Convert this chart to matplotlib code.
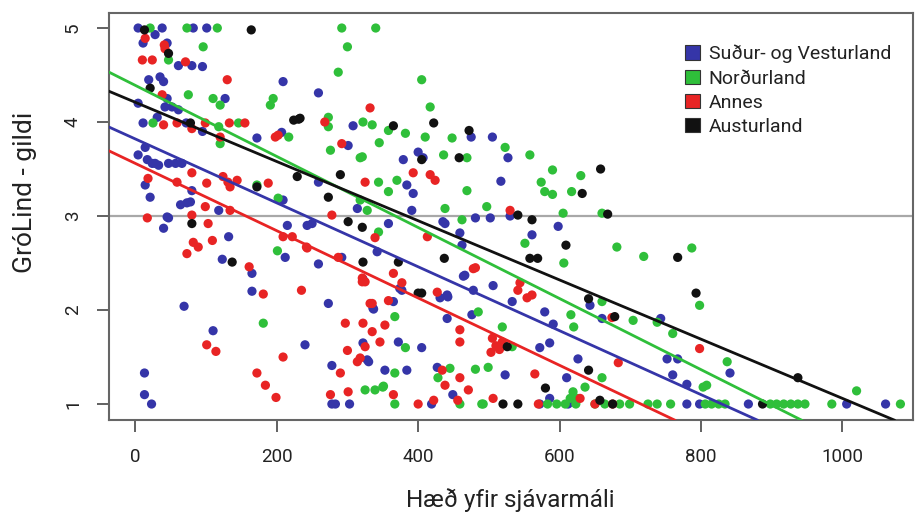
import matplotlib
matplotlib.use("Agg")
from matplotlib import pyplot as plt
from matplotlib.patches import Patch

plt.rcParams['font.family'] = ['Roboto', 'DejaVu Sans']

# Suður- og Vesturland
sv_x = [4, 38, 82, 101, 11, 28, 45, 61, 80, 95, 19, 35, 40, 209, 45, 127, 259,
        4, 42, 52, 61, 31, 11, 72, 95, 172, 207, 308, 301, 379, 400, 407,
        384, 393, 259, 391, 314, 435, 358, 215, 243, 250,
        4, 17, 24, 28, 33, 14, 47, 57, 66, 14, 21, 80, 64, 73, 78, 118, 45, 40, 132, 209,
        47, 123, 165, 165, 69, 110, 13, 13, 23, 240, 212,
        273, 336, 365, 372, 405, 322, 328, 330, 278, 353, 384,
        278, 283, 303, 419, 322, 374, 431, 441, 441, 259,
        438, 459, 462, 481, 502, 292, 342, 464, 506, 377, 442, 478, 337, 476, 427, 523, 449,
        475, 505, 527, 517, 530,
        598, 561, 533, 579, 591, 643, 660, 743, 752, 767, 760, 780, 626, 586, 572, 610, 586, 466,
        841, 572, 612, 780, 798, 867, 1006, 1061]
sv_y = [5, 5, 5, 5, 4.84, 4.93, 4.84, 4.6, 4.6, 4.59, 4.45, 4.48, 4.43, 4.43, 4.25, 4.25, 4.31,
        4.2, 4.16, 4.16, 4.13, 4.05, 3.99, 3.99, 3.9, 3.83, 3.89, 3.96, 3.75, 3.6, 3.68, 3.62,
        3.33, 3.24, 3.36, 3.06, 3.08, 2.94, 2.92, 2.9, 2.9, 2.92,
        3.65, 3.6, 3.56, 3.56, 3.54, 3.73, 3.56, 3.56, 3.56, 3.33, 3.2, 3.27, 3.12, 3.14, 3.15, 3.06, 2.99, 2.87, 2.78, 3.17,
        2.98, 2.54, 2.39, 2.2, 2.04, 1.78, 1.33, 1.1, 1.0, 1.63, 2.56,
        2.07, 2.02, 2.09, 1.66, 1.6, 1.65, 1.47, 1.45, 1.41, 1.36, 1.36,
        1.0, 1.0, 1.0, 1.0, 2.33, 2.23, 2.13, 2.16, 1.91, 2.49,
        2.92, 2.82, 2.69, 2.98, 2.98, 2.56, 2.62, 2.36, 2.26, 2.21, 2.14, 2.21, 2.01, 1.95, 1.39, 1.31, 1.1,
        3.84, 3.84, 3.62, 3.37, 3.0,
        2.89, 2.8, 2.09, 1.98, 1.85, 2.05, 1.91, 1.91, 1.48, 1.48, 1.31, 1.21, 1.48, 1.65, 1.6, 1.28, 1.06, 2.37,
        1.33, 1.0, 1.0, 1.0, 1.0, 1.0, 1.0, 1.0]

# Norðurland
no_x = [21, 73, 116, 292, 340, 47, 96, 300, 287, 405,
        75, 110, 120, 195, 191, 25, 118, 146, 217, 120,
        273, 273, 322, 335, 358, 382, 417, 410, 448,
        276, 318, 436, 344, 370, 358, 318, 328, 202, 438, 172,
        201, 181, 382, 367, 339, 351, 367,
        344, 462, 367, 485, 519, 445, 428, 481, 499, 459, 350, 325, 492,
        345, 321, 469, 523, 497, 469,
        558, 590, 630, 574, 579, 590, 617, 605, 660,
        551, 606, 681, 719, 787, 798, 616, 620, 660, 704, 738, 760, 803, 533, 660, 636, 619, 625, 615,
        837, 808, 1020,
        490, 583, 596, 608, 623, 650, 664, 685, 699, 725, 738, 757, 806, 815, 825, 834,
        898, 907, 917, 927, 937, 947, 985, 1082]
no_y = [5, 5, 5, 5, 5, 4.66, 4.8, 4.8, 4.53, 4.45,
        4.29, 4.25, 4.18, 4.25, 4.18, 3.99, 3.95, 3.99, 3.84, 3.77,
        4.05, 3.95, 4.0, 3.97, 3.91, 3.88, 4.16, 3.84, 3.83,
        3.7, 3.62, 3.65, 3.36, 3.38, 3.26, 3.17, 3.06, 3.19, 3.08, 3.33,
        2.63, 1.86, 1.6, 1.33, 1.15, 1.19, 1.0,
        2.83, 2.96, 1.93, 1.98, 1.82, 1.38, 1.28, 1.37, 1.39, 1.0, 1.18, 1.15, 1.0,
        3.78, 3.63, 3.62, 3.73, 3.1, 3.27,
        3.65, 3.49, 3.43, 3.36, 3.26, 3.23, 3.26, 3.03, 3.03,
        2.71, 2.5, 2.67, 2.57, 2.66, 2.05, 1.95, 1.82, 2.09, 1.89, 1.87, 1.75, 1.18, 1.61, 1.28, 1.18, 1.13, 1.06, 1.06,
        1.45, 1.2, 1.14,
        1.0, 1.0, 1.0, 1.0, 1.0, 1.0, 1.0, 1.0, 1.0, 1.0, 1.0, 1.0, 1.0, 1.0, 1.0, 1.0,
        1.0, 1.0, 1.0, 1.0, 1.0, 1.0, 1.0, 1.0]

# Annes
an_x = [14, 41, 42, 10, 24, 71, 130, 38, 40, 59, 80, 99, 133, 155, 202, 198, 120, 268, 332, 292,
        393, 417, 424, 325, 278, 339, 413, 209, 222,
        18, 80, 101, 59, 124, 131, 134, 144, 99, 134, 80, 17, 103, 82, 89, 73, 109, 188,
        161, 181, 101, 114, 172, 184, 199, 209, 235, 243,
        297, 322, 335, 346, 353, 332, 358, 300, 314, 318, 325, 290, 365, 276, 301, 400, 422,
        325, 365, 377, 427, 242, 287, 481, 321, 321, 335,
        459, 459, 505, 510, 515, 503, 519, 434, 438, 459, 471, 456, 506, 530,
        541, 554, 561, 478, 544, 674, 798, 683, 565, 629, 570, 650, 675]
an_y = [4.89, 4.82, 4.78, 4.66, 4.66, 4.64, 4.45, 4.29, 3.97, 3.99, 3.93, 3.99, 3.99, 3.99, 3.86, 3.84, 3.84, 4.0, 4.15, 3.77,
        3.46, 3.44, 3.38, 3.36, 3.01, 2.77, 2.78, 2.78, 2.78,
        3.4, 3.46, 3.35, 3.36, 3.42, 3.36, 3.31, 3.38, 3.1, 3.06, 3.01, 2.98, 2.92, 2.72, 2.67, 2.6, 2.74, 3.35,
        2.46, 2.17, 1.63, 1.56, 1.33, 1.2, 1.07, 1.5, 2.21, 2.66,
        1.86, 1.86, 1.77, 1.66, 1.84, 2.07, 2.1, 1.57, 1.45, 1.49, 1.61, 1.33, 1.1, 1.1, 1.13, 1.0, 1.04,
        2.3, 2.39, 2.29, 2.19, 2.67, 2.56, 2.45, 2.34, 2.3, 2.07,
        1.79, 1.66, 1.7, 1.62, 1.58, 1.55, 1.66, 1.36, 1.2, 1.28, 1.15, 1.04, 1.06, 3.06,
        2.21, 2.13, 2.16, 2.44, 2.29, 1.92, 1.59, 1.44, 1.32, 1.06, 1.0, 1.0, 1.0]

# Austurland
au_x = [13, 164, 47, 21, 78, 224, 231, 233, 365, 422, 405, 290, 273, 301, 321, 229, 172, 80, 137,
        400, 405, 322, 372, 437, 472, 458, 526, 520, 541,
        658, 632, 668, 541, 561, 609, 558, 569, 767, 793, 641, 678, 641, 580, 657, 675, 887, 937]
au_y = [4.98, 4.98, 4.73, 4.36, 3.99, 4.02, 4.03, 4.04, 3.96, 3.99, 3.6, 3.44, 3.2, 2.94, 2.88, 3.42, 3.31, 2.92, 2.51,
        2.18, 2.18, 2.51, 2.51, 2.55, 3.91, 3.62, 1.61, 1.0, 1.0,
        3.5, 3.24, 3.02, 3.01, 2.96, 2.69, 2.55, 2.55, 2.56, 2.18, 2.12, 1.93, 1.36, 1.17, 1.04, 1.0, 1.0, 1.28]

# regression lines: (intercept, slope)
fits = {'Suður- og Vesturland': (3.82, -0.0034),
        'Norðurland': (4.39, -0.00378),
        'Annes': (3.56, -0.00358),
        'Austurland': (4.21, -0.00315)}

names = ['Suður- og Vesturland', 'Norðurland', 'Annes', 'Austurland']
colors = ['#3535a8', '#2fbf3a', '#e82424', '#111111']
groups = [(sv_x, sv_y), (no_x, no_y), (an_x, an_y), (au_x, au_y)]

fig = plt.figure(figsize=(9.17, 5.17), dpi=100)
ax = fig.add_axes([0.119, 0.1876, 0.8768, 0.7873])

ax.axhline(3, color='#a8a8a8', lw=1.6, zorder=1)
for (gx, gy), c in zip(groups, colors):
    ax.scatter(gx, gy, s=44, color=c, edgecolors='none', zorder=2)
for name, c in zip(names, colors):
    b, m = fits[name]
    ax.axline((0, b), slope=m, color=c, lw=2.0, zorder=3)

ax.set_xlim(-37, 1100)
ax.set_ylim(0.83, 5.16)
ax.set_xticks([0, 200, 400, 600, 800, 1000])
ax.set_yticks([1, 2, 3, 4, 5])
ax.tick_params(axis='both', length=8.5, width=1.3, color='#555555', labelsize=13.5, labelcolor='#222222')
ax.tick_params(axis='x', pad=12)
ax.tick_params(axis='y', pad=11, labelrotation=90)
for lab in ax.get_yticklabels():
    lab.set_va('center')
for sp in ax.spines.values():
    sp.set_color('#666666')
    sp.set_linewidth(1.5)

fig.text(0.557, 0.02, 'Hæð yfir sjávarmáli', fontsize=17.5, color='#222222',
         ha='center', va='baseline')
ax.set_ylabel('GróLind - gildi', fontsize=19, color='#222222')
ax.yaxis.set_label_coords(-0.09, 0.56)

handles = [Patch(facecolor=c, edgecolor='#333333', lw=0.8) for c in colors]
ax.legend(handles, names, loc='upper left', bbox_to_anchor=(0.695, 0.965), frameon=False,
          fontsize=14, handlelength=0.75, handleheight=0.75, handletextpad=0.45, labelspacing=0.32,
          labelcolor='#222222')

plt.savefig('out.png', dpi=100)
